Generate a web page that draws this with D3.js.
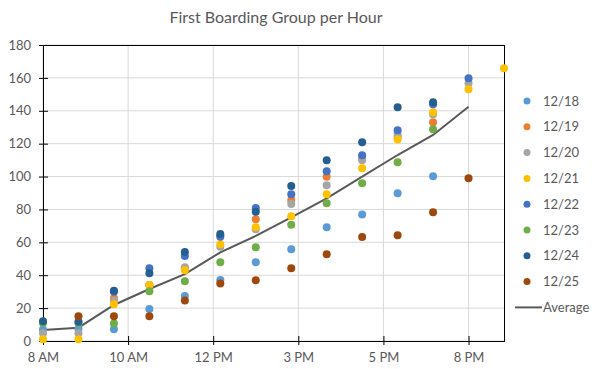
<!DOCTYPE html>
<html><head><meta charset="utf-8">
<script src="https://cdn.jsdelivr.net/npm/d3@7"></script>
<style>body{margin:0;background:#fff}svg{display:block}text{font-family:Lato,"Open Sans",sans-serif;fill:#595959}</style>
</head><body><svg id="c" width="596" height="369"></svg>
<script>
const hours = [8,9,10,11,12,13,14,15,16,17,18,19,20,21];
const seriesNames = ["12/18","12/19","12/20","12/21","12/22","12/23","12/24","12/25"];
const colors = ["#5B9BD5","#ED7D31","#A5A5A5","#FFC000","#4472C4","#70AD47","#255E91","#9E480E"];
const s1218 = [7,7.3,7.1,19.5,27.4,37.1,47.9,55.8,69.1,77,89.8,100.2,null,null];
const s1219 = [null,null,26,34,44,64,74,85.7,99.9,111,124,133,null,null];
const s1220 = [4.7,4.7,24.5,34,44.8,57.3,67.9,83.3,94.7,109.9,125.9,137.9,156.7,null];
const s1221 = [1,1,22.3,34,43,58.8,69.1,75.8,89.2,105,122.6,139.1,153.1,165.8];
const s1222 = [null,null,30,44.2,51.7,63.4,80.9,89.2,103.2,112.9,128.1,143.9,159.8,null];
const s1223 = [11,11,10.7,30.2,36.3,47.9,57,70.7,83.7,95.9,108.7,128.7,null,null];
const s1224 = [12,11.7,30.6,41.2,54.1,65,78.6,94.3,109.9,120.8,142.1,145.2,null,null];
const s1225 = [null,15,15,15,24.7,35,36.9,44.2,52.7,63.2,64.3,78.3,98.9,null];
const average = [6.7,8.1,21.9,31.6,40.7,53.9,63.9,75.2,86.8,99.9,113.1,125.3,142.5,null];
const xTickValues = [8,10.4,12.8,15.2,17.6,20];
const xTickLabels = ["8 AM","10 AM","12 PM","3 PM","5 PM","8 PM"];
const yTicks = [0,20,40,60,80,100,120,140,160,180];
const title = "First Boarding Group per Hour";

const allSeries = [s1218,s1219,s1220,s1221,s1222,s1223,s1224,s1225];
const svg = d3.select("#c");
const L=43,R=504,T=45,B=341;
const x = d3.scaleLinear().domain([8,21]).range([L,R]);
const y = d3.scaleLinear().domain([0,180]).range([B,T]);

svg.append("text").attr("x",276).attr("y",23).attr("text-anchor","middle")
  .style("font-size","16px").text(title);

// gridlines
const g = svg.append("g");
g.selectAll(".hg").data(yTicks).join("line").attr("x1",L).attr("x2",R)
  .attr("y1",d=>y(d)).attr("y2",d=>y(d)).attr("stroke","#d9d9d9");
g.selectAll(".vg").data(xTickValues).join("line").attr("y1",T).attr("y2",B)
  .attr("x1",d=>x(d)).attr("x2",d=>x(d)).attr("stroke","#d9d9d9");
// frame
svg.append("rect").attr("x",L+0.5).attr("y",T+0.5).attr("width",R-L).attr("height",B-T)
  .attr("fill","none").attr("stroke","#000");

// axes
const yAxis = d3.axisLeft(y).tickValues(yTicks).tickSize(0).tickPadding(12);
const ya = svg.append("g").attr("transform",`translate(${L},0)`).call(yAxis);
ya.select(".domain").remove();
ya.selectAll("text").style("font-size","13px").style("font-family","Lato").attr("fill","#595959");
svg.append("g").selectAll("line").data(yTicks).join("line")
  .attr("x1",L-4).attr("x2",L+5).attr("y1",d=>y(d)+0.5).attr("y2",d=>y(d)+0.5).attr("stroke","#000");

const xAxis = d3.axisBottom(x).tickValues(xTickValues).tickSize(0).tickPadding(12)
  .tickFormat((d,i)=>xTickLabels[i]);
const xa = svg.append("g").attr("transform",`translate(0,${B})`).call(xAxis);
xa.select(".domain").remove();
xa.selectAll("text").style("font-size","13px").style("font-family","Lato").attr("fill","#595959");
svg.append("g").selectAll("line").data(xTickValues).join("line")
  .attr("y1",B-5).attr("y2",B+4).attr("x1",d=>x(d)+0.5).attr("x2",d=>x(d)+0.5).attr("stroke","#000");

// average line
const line = d3.line().defined(d=>d[1]!=null).x(d=>x(d[0])).y(d=>y(d[1]));
svg.append("path").datum(hours.map((h,i)=>[h,average[i]]))
  .attr("d",line).attr("fill","none").attr("stroke","#595959").attr("stroke-width",2);

// points
allSeries.forEach((s,k)=>{
  svg.append("g").selectAll("circle")
    .data(hours.map((h,i)=>[h,s[i]]).filter(d=>d[1]!=null))
    .join("circle").attr("cx",d=>x(d[0])).attr("cy",d=>y(d[1])).attr("r",4)
    .attr("fill",colors[k]);
});

// legend
const lg = svg.append("g");
seriesNames.forEach((n,k)=>{
  const yy = 101 + k*25.8;
  lg.append("circle").attr("cx",527).attr("cy",yy).attr("r",3.5).attr("fill",colors[k]);
  lg.append("text").attr("x",543).attr("y",yy+4.5).style("font-size","13px").text(n);
});
const ay = 101 + 8*25.8;
lg.append("line").attr("x1",515).attr("x2",542).attr("y1",ay).attr("y2",ay).attr("stroke","#595959").attr("stroke-width",2);
lg.append("text").attr("x",543).attr("y",ay+4.5).style("font-size","13px").text("Average");
</script></body></html>
